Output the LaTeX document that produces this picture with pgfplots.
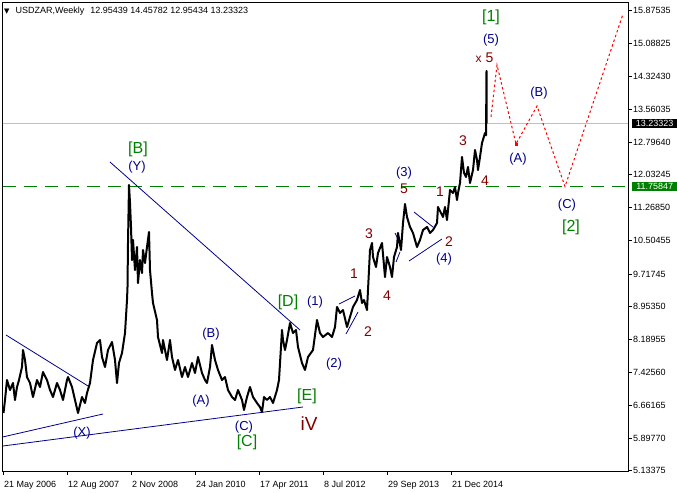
\documentclass[border=0pt]{standalone}
\usepackage{pgfplots}
\pgfplotsset{compat=1.18}
\usepackage{fontspec}
\setmainfont{Liberation Sans}
\newfontfamily\dejavu{DejaVu Sans}
\definecolor{wgreen}{RGB}{0,128,0}
\definecolor{wblue}{RGB}{0,0,139}
\definecolor{wred}{RGB}{128,0,0}
\definecolor{lgray}{RGB}{192,192,192}
\newcommand{\fs}[1]{\fontsize{#1bp}{#1bp}\selectfont}
\newcommand{\lab}[4]{\node[text=#1, font=\fs{#2}, inner sep=0pt] at (axis cs:#3) {#4};}

\begin{document}
\begin{tikzpicture}
\useasboundingbox (0,0) rectangle (677bp,493bp);
\begin{axis}[
  at={(2.5bp,22bp)}, anchor=south west,
  scale only axis, width=625.5bp, height=469bp,
  xmin=-1, xmax=624.5, ymin=5.127, ymax=16.062,
  axis line style={line width=0.8bp},
  xtick={0,64,128,192,256,320,384,448},
  xticklabels={21 May 2006, 12 Aug 2007, 2 Nov 2008, 24 Jan 2010, 17 Apr 2011, 8 Jul 2012, 29 Sep 2013, 21 Dec 2014},
  xtick pos=bottom, ytick pos=right,
  tick align=outside, major tick length=4bp,
  tick style={line width=0.8bp, black},
  ytick={5.13375,5.89770,6.66165,7.42560,8.18955,8.95350,9.71745,10.50455,11.26850,12.03245,12.79640,13.56035,14.32430,15.08825,15.87535},
  yticklabels={5.13375,5.89770,6.66165,7.42560,8.18955,8.95350,9.71745,10.50455,11.26850,12.03245,12.79640,13.56035,14.32430,15.08825,15.87535},
  yticklabel pos=right,
  ticklabel style={font=\fs{9}},
  xticklabel style={anchor=north west, inner sep=0pt, xshift=0.5bp, yshift=-6bp},
  yticklabel style={anchor=west, inner sep=0pt, xshift=1bp},
]
% reference horizontal lines
\addplot[lgray, line width=0.9bp] coordinates {(-1,13.23323) (624.5,13.23323)};
\addplot[wgreen, line width=1bp, dash pattern=on 13bp off 8bp] coordinates {(-1,11.75847) (624.5,11.75847)};

% trend lines
\addplot[wblue, line width=0.8bp] coordinates {(2.5,8.298) (84.5,7.109)};
\addplot[wblue, line width=0.8bp] coordinates {(-1,5.919) (99.5,6.456)};
\addplot[wblue, line width=0.8bp] coordinates {(-0.5,5.710) (299.5,6.619)};
\addplot[wblue, line width=0.8bp] coordinates {(106.5,12.331) (296.5,8.414)};
\addplot[wblue, line width=0.8bp] coordinates {(335.5,9.020) (351.5,9.207)};
\addplot[wblue, line width=0.8bp] coordinates {(342.5,8.321) (354.5,8.834)};
\addplot[wblue, line width=0.8bp] coordinates {(391.5,10.676) (396.5,10.443)};
\addplot[wblue, line width=0.8bp] coordinates {(392.5,9.999) (396.5,10.233)};
\addplot[wblue, line width=0.8bp] coordinates {(410.5,11.165) (429.5,10.816)};
\addplot[wblue, line width=0.8bp] coordinates {(405.5,10.023) (438.5,10.536)};

% price (weekly USDZAR)
\addplot[black, line width=2bp, line join=round] coordinates {
(0,6.479) (1.5,6.782) (3.5,7.248) (6.5,7.015) (9.5,7.179) (11.5,6.782) (13.5,7.085)
(15.5,7.248) (18.5,7.552) (19.5,7.948) (21.5,7.715) (23.5,7.318) (26.5,7.179) (29.5,6.852)
(33.5,7.248) (36.5,7.085) (39.5,7.435) (43.5,7.248) (46.5,7.015) (49.5,6.852) (53.5,7.179)
(56.5,7.015) (59.5,6.782) (63.5,7.248) (64.5,7.318) (68.5,7.085) (71.5,6.782) (74.5,6.479)
(78.5,6.852) (81.5,6.712) (83.5,6.946) (86.5,7.179) (89.5,7.715) (93.5,8.111) (96.5,8.181)
(98.5,7.785) (101.5,7.552) (104.5,7.948) (108.5,8.135) (111.5,7.715) (113.5,7.179) (115.5,7.645)
(118.5,7.878) (121.5,8.344) (123.5,9.114) (124,9.417) (124.5,10.443) (125.5,11.795) (126.5,11.375)
(127.5,10.816) (128.5,10.046) (129.5,10.513) (131.5,9.813) (133.5,10.349) (134.5,9.510) (136.5,10.046)
(138.5,9.743) (139.5,10.279) (141.5,9.977) (143.5,10.349) (145.5,10.699) (146.5,9.813) (148.5,9.277)
(149.5,9.044) (153.5,8.647) (154.5,8.251) (158.5,7.878) (159.5,8.181) (163.5,7.715) (166.5,8.181)
(168.5,7.785) (171.5,7.482) (174.5,7.715) (178.5,7.318) (181.5,7.552) (184.5,7.318) (188.5,7.645)
(191.5,7.412) (194.5,7.785) (198.5,7.412) (201.5,7.248) (203.5,7.179) (206.5,7.552) (208.5,8.065)
(211.5,7.715) (214.5,7.482) (218.5,7.248) (221.5,7.318) (224.5,7.015) (228.5,6.852) (231.5,6.782)
(234.5,7.015) (238.5,6.782) (240.5,6.549) (243.5,6.852) (246.5,7.085) (249.5,6.852) (253.5,6.712)
(256.5,6.619) (258.5,6.502) (260.5,6.852) (263.5,6.782) (266.5,6.852) (269.5,6.712) (273.5,7.015)
(275.5,7.248) (278.5,8.414) (279.5,8.181) (281.5,7.948) (283.5,8.181) (286.5,8.578) (289.5,8.344)
(292.5,8.414) (294.5,8.018) (298.5,7.645) (301.5,7.482) (304.5,7.785) (309.5,7.948) (313.5,8.647)
(316.5,8.344) (319.5,8.251) (324.5,8.344) (328.5,8.251) (331.5,8.484) (333.5,8.951) (336.5,8.811)
(339.5,8.880) (343.5,8.484) (346.5,8.718) (349.5,8.951) (353.5,9.114) (356.5,9.347) (358.5,9.044)
(360.5,9.114) (363.5,8.880) (364.5,9.347) (366.5,10.279) (368.5,10.443) (369.5,10.116) (372.5,9.883)
(374.5,10.210) (378.5,10.443) (381.5,9.650) (383.5,10.116) (386.5,9.883) (388.5,9.650) (390.5,10.116)
(393.5,10.349) (394.5,10.676) (397.5,10.279) (399.5,10.909) (401.5,11.352) (403.5,11.049) (406.5,10.816)
(409.5,10.676) (413.5,10.349) (416.5,10.513) (419.5,10.746) (423.5,10.816) (426.5,10.676) (429.5,10.746)
(433.5,10.909) (434.5,11.282) (437.5,11.142) (439.5,11.049) (441.5,11.282) (443.5,10.979) (446.5,11.678)
(449.5,11.609) (451.5,11.748) (453.5,11.445) (454.5,11.609) (456.5,11.842) (458.5,12.448) (460.5,12.075)
(462.5,11.982) (464.5,12.215) (466.5,11.842) (469.5,12.145) (471.5,12.611) (473.5,12.378) (474.5,12.145)
(476.5,12.448) (478.5,12.774) (481.5,13.007) (482.5,12.954) (483,14.458) (483,13.233)
};

% projected path
\addplot[red, line width=1bp, dash pattern=on 2.5bp off 2.5bp] coordinates {
(487.5,13.381) (493.5,14.593) (512.5,12.751) (533.5,13.637) (561.5,11.758) (619.5,15.782)};
\addplot[red, only marks, mark=square*, mark size=1.2bp] coordinates {(512.5,12.751)};

% green labels
\lab{wgreen}{16}{134.5,12.634}{[B]}
\lab{wgreen}{16}{284.5,9.067}{[D]}
\lab{wgreen}{16}{243.5,5.803}{[C]}
\lab{wgreen}{16}{303.5,6.875}{[E]}
\lab{wgreen}{16}{487.5,15.715}{[1]}
\lab{wgreen}{16}{567.5,10.816}{[2]}
\lab{wred}{19}{305.5,6.222}{iV}
% blue labels
\lab{wblue}{13}{133.5,12.215}{(Y)}
\lab{wblue}{13}{78.5,6.013}{(X)}
\lab{wblue}{13}{207.5,8.321}{(B)}
\lab{wblue}{13}{197.5,6.759}{(A)}
\lab{wblue}{13}{240.5,6.153}{(C)}
\lab{wblue}{13}{311.5,9.067}{(1)}
\lab{wblue}{13}{330.5,7.622}{(2)}
\lab{wblue}{13}{400.5,12.075}{(3)}
\lab{wblue}{13}{440.5,10.070}{(4)}
\lab{wblue}{13}{487.5,15.182}{(5)}
\lab{wblue}{13}{514.5,12.401}{(A)}
\lab{wblue}{13}{535.5,13.940}{(B)}
\lab{wblue}{13}{563.5,11.329}{(C)}
% maroon labels
\lab{wred}{14}{350.5,9.720}{1}
\lab{wred}{14}{364.5,8.368}{2}
\lab{wred}{14}{365.5,10.653}{3}
\lab{wred}{14}{383.5,9.207}{4}
\lab{wred}{14}{400.5,11.702}{5}
\lab{wred}{14}{436.5,11.632}{1}
\lab{wred}{14}{445.5,10.466}{2}
\lab{wred}{14}{459.5,12.821}{3}
\lab{wred}{14}{481.5,11.888}{4}
\lab{wred}{14}{481,14.756}{{\fs{12}x} 5}

\coordinate (cp) at (axis cs:624.5,13.23323);
\coordinate (cg) at (axis cs:624.5,11.75847);
\end{axis}
\node[fill=black, text=white, anchor=west, inner sep=0pt, minimum width=45bp, minimum height=9bp, font=\fs{9}] at ([xshift=4bp]cp) {13.23323};
\node[fill=wgreen, text=white, anchor=west, inner sep=0pt, minimum width=45bp, minimum height=9bp, font=\fs{9}] at ([xshift=4bp]cg) {11.75847};
\node[anchor=west, inner sep=0pt, font=\fs{9}] at (4bp,482bp) {{\dejavu\fs{7}▼}\hspace{6bp}USDZAR,Weekly\hspace{6bp}12.95439 14.45782 12.95434 13.23323};
\end{tikzpicture}
\end{document}
